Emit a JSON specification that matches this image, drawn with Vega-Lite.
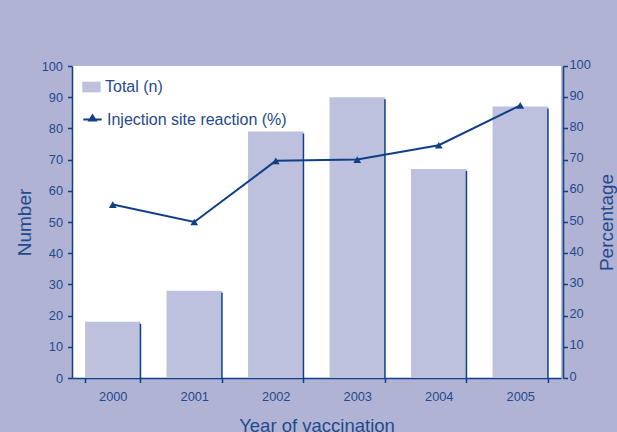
{
  "$schema": "https://vega.github.io/schema/vega-lite/v6.json",
  "width": 489,
  "height": 312,
  "autosize": {"type": "none"},
  "padding": {"left": 72, "top": 66, "right": 56, "bottom": 54},
  "background": "#b1b3d5",
  "config": {
    "view": {"fill": "white", "stroke": null},
    "font": "Liberation Sans",
    "axis": {
      "domainColor": "#0e3f88",
      "tickColor": "#0e3f88",
      "labelColor": "#1f4a8c",
      "titleColor": "#1f4a8c",
      "grid": false,
      "labelFont": "Liberation Sans",
      "titleFont": "Liberation Sans",
      "labelFontSize": 12.8,
      "titleFontSize": 19,
      "titleFontWeight": "normal",
      "domainWidth": 1.5,
      "tickWidth": 1.5,
      "tickSize": 4.5
    }
  },
  "data": {
    "values": [
      {"year": "2000", "total": 18, "pct": 55.6},
      {"year": "2001", "total": 28, "pct": 50},
      {"year": "2002", "total": 79, "pct": 69.6},
      {"year": "2003", "total": 90, "pct": 70},
      {"year": "2004", "total": 67, "pct": 74.6},
      {"year": "2005", "total": 87, "pct": 87.4}
    ]
  },
  "encoding": {
    "x": {
      "field": "year",
      "type": "ordinal",
      "scale": {"paddingInner": 0.32, "paddingOuter": 0.16},
      "axis": {
        "title": "Year of vaccination",
        "labelAngle": 0,
        "tickBand": "extent",
        "labelPadding": 8,
        "titlePadding": 13,
        "titleFontSize": 18.5
      }
    }
  },
  "layer": [
    {
      "encoding": {
        "y": {
          "field": "total",
          "type": "quantitative",
          "scale": {"domain": [0, 100]},
          "axis": {
            "title": "Number",
            "orient": "left",
            "values": [0, 10, 20, 30, 40, 50, 60, 70, 80, 90, 100],
            "labelPadding": 5,
            "titlePadding": 7
          }
        }
      },
      "layer": [
        {
          "mark": {"type": "bar"},
          "encoding": {
            "fill": {
              "datum": "Total (n)",
              "scale": {"range": ["#bec1dd"]},
              "legend": {
                "title": null,
                "orient": "none",
                "legendX": 10,
                "legendY": 11.5,
                "symbolType": "M-1,-0.58H1V0.58H-1Z",
                "symbolSize": 338,
                "symbolStrokeWidth": 0,
                "labelFontSize": 16,
                "labelLimit": 400,
                "labelColor": "#1f4a8c",
                "labelFont": "Liberation Sans",
                "labelOffset": 4
              }
            }
          }
        },
        {
          "mark": {"type": "rule", "color": "#0e3f88", "strokeWidth": 1.5, "yOffset": 2},
          "encoding": {
            "x": {"field": "year", "type": "ordinal", "bandPosition": 1},
            "y2": {"datum": 0}
          }
        }
      ]
    },
    {
      "encoding": {
        "y": {
          "field": "pct",
          "type": "quantitative",
          "scale": {"domain": [0, 100]},
          "axis": {
            "title": "Percentage",
            "orient": "right",
            "values": [0, 10, 20, 30, 40, 50, 60, 70, 80, 90, 100],
            "offset": 2,
            "labelPadding": 1.5,
            "labelOffset": -2,
            "titleAngle": 270,
            "titleBaseline": "top",
            "titlePadding": 7
          }
        }
      },
      "layer": [
        {
          "mark": {"type": "line", "strokeWidth": 2},
          "encoding": {
            "stroke": {
              "datum": "Injection site reaction (%)",
              "scale": {"range": ["#0e3f88"]},
              "legend": {
                "title": null,
                "orient": "none",
                "legendX": 10,
                "legendY": 43,
                "symbolType": "M-1,0H1M-0.35,0.12L0,-0.45L0.35,0.12Z",
                "symbolSize": 338,
                "symbolStrokeWidth": 2,
                "symbolFillColor": "#0e3f88",
                "symbolStrokeColor": "#0e3f88",
                "labelFontSize": 16,
                "labelLimit": 400,
                "labelColor": "#1f4a8c",
                "labelFont": "Liberation Sans",
                "labelOffset": 4,
                "encode": {"symbols": {"update": {"fill": {"value": "#0e3f88"}}}}
              }
            }
          }
        },
        {
          "mark": {"type": "point", "shape": "triangle-up", "filled": true, "size": 60, "color": "#0e3f88", "opacity": 1}
        }
      ]
    }
  ],
  "resolve": {"scale": {"y": "independent"}}
}
